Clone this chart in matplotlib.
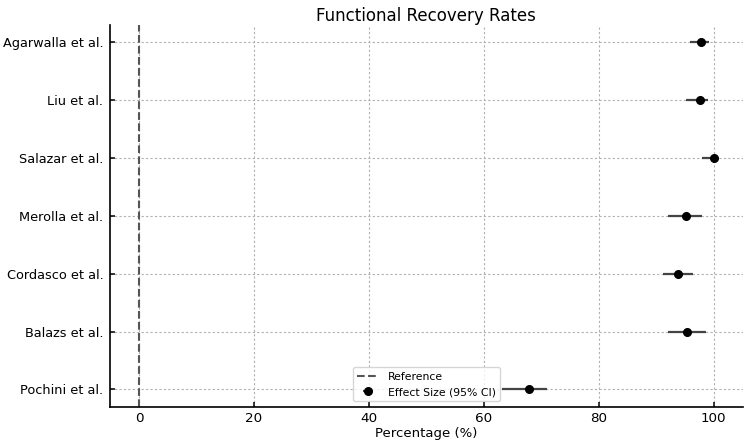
import numpy as np
import matplotlib.pyplot as plt

studies = ["Agarwalla et al.", "Liu et al.", "Salazar et al.", "Merolla et al.",
           "Cordasco et al.", "Balazs et al.", "Pochini et al."]
effect = [97.8, 97.6, 100.0, 95.1, 93.7, 95.4, 67.8]
ci_low = [95.9, 95.1, 98.0, 92.1, 91.2, 92.1, 63.1]
ci_high = [99.1, 99.0, 100.0, 98.0, 96.4, 98.6, 70.9]

fig, ax = plt.subplots(figsize=(7.5, 4.47), dpi=100)
fig.subplots_adjust(left=0.147, right=0.99, top=0.944, bottom=0.09)

y = np.arange(len(studies))[::-1]
eff = np.array(effect)
xerr = [eff - np.array(ci_low), np.array(ci_high) - eff]

ax.axvline(0, color='#555555', linestyle='--', linewidth=1.5, label='Reference')
ax.errorbar(eff, y, xerr=xerr, fmt='o', color='black', ecolor='#444444',
            elinewidth=1.6, markersize=5.5, capsize=0, label='Effect Size (95% CI)')

ax.set_yticks(y)
ax.set_yticklabels(studies, fontsize=9.3)
ax.set_xlim(-5, 105)
ax.set_xticks([0, 20, 40, 60, 80, 100])
ax.tick_params(axis='x', labelsize=9.7)
ax.tick_params(direction='in', width=1.1)
ax.tick_params(axis='y', pad=5)
ax.set_xlabel('Percentage (%)', fontsize=9.5, labelpad=2)
ax.set_title('Functional Recovery Rates', fontsize=12, pad=3)
ax.grid(True, linestyle=(0, (2, 2)), color='#b0b0b0', linewidth=0.8)
ax.set_axisbelow(True)
ax.spines['top'].set_visible(False)
ax.spines['right'].set_visible(False)
ax.spines['left'].set_linewidth(1.2)
ax.spines['bottom'].set_linewidth(1.2)
ax.legend(loc='lower center', fontsize=7.8)

plt.savefig('out.png', dpi=100)
